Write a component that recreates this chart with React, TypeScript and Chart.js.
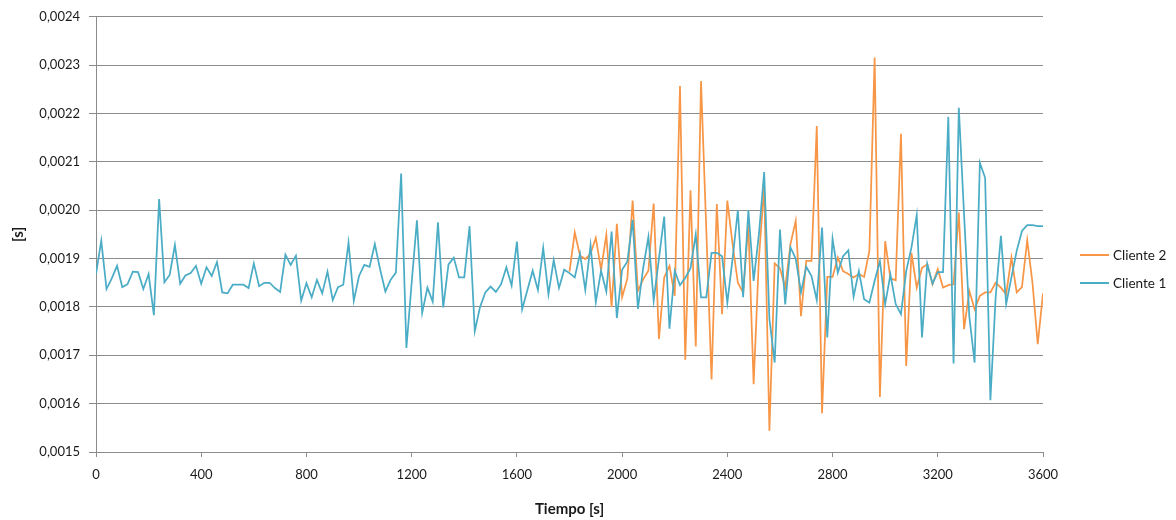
import React, { useEffect, useRef } from "react";
import { Chart, registerables } from "chart.js";

Chart.register(...registerables);

// Sampling: one value every 20 s
const TIME_STEP = 20;
const CLIENTE1_START = 0;
const CLIENTE2_START = 1800;

const CLIENTE1_LABEL = "Cliente 1";
const CLIENTE2_LABEL = "Cliente 2";

// Cliente 1: 0 s .. 3600 s
const CLIENTE1 = [
  0.001868, 0.001937, 0.001837, 0.001859, 0.001885, 0.001841, 0.001847, 0.001873, 0.001872, 0.001837,
  0.001868, 0.001783, 0.002023, 0.001851, 0.001866, 0.001928, 0.001848, 0.001865, 0.00187, 0.001885,
  0.001848, 0.001882, 0.001864, 0.001893, 0.00183, 0.001828, 0.001846, 0.001846, 0.001846, 0.001839,
  0.00189, 0.001843, 0.00185, 0.00185, 0.001839, 0.001831, 0.001908, 0.001887, 0.001906, 0.001813,
  0.001849, 0.00182, 0.001856, 0.001828, 0.001873, 0.001814, 0.001841, 0.001846, 0.001933, 0.001813,
  0.001864, 0.001887, 0.001883, 0.00193, 0.001878, 0.001832, 0.001856, 0.001871, 0.002076, 0.001715,
  0.00185, 0.001979, 0.001788, 0.00184, 0.001811, 0.001975, 0.001799, 0.001888, 0.001902, 0.001861,
  0.001861, 0.001967, 0.00175, 0.0018, 0.00183, 0.001842, 0.001831, 0.001847, 0.001882, 0.001844,
  0.001935, 0.001795, 0.001835, 0.001875, 0.001835, 0.001922, 0.001826, 0.001897, 0.001839, 0.001877,
  0.00187, 0.001861, 0.00191, 0.001835, 0.001928, 0.00181, 0.001875, 0.001832, 0.001956, 0.001777,
  0.001877, 0.001894, 0.00198, 0.001796, 0.00188, 0.001945, 0.001813, 0.0019, 0.001987, 0.001755,
  0.001875, 0.001845, 0.00186, 0.00188, 0.00195, 0.00182, 0.00182, 0.001912, 0.001912, 0.001905,
  0.001809, 0.0019, 0.002, 0.00182, 0.002, 0.001854, 0.00195, 0.002079, 0.001775, 0.001685,
  0.00196, 0.001805, 0.001923, 0.0019, 0.00183, 0.001883, 0.001864, 0.001814, 0.001964, 0.001737,
  0.001941, 0.001871, 0.001905, 0.001917, 0.001821, 0.001874, 0.001816, 0.001809, 0.001854, 0.001895,
  0.001806, 0.001867, 0.001806, 0.001785, 0.001874, 0.001923, 0.00199, 0.001737, 0.001889, 0.001848,
  0.001872, 0.001872, 0.002193, 0.001683, 0.002212, 0.00199, 0.00178, 0.001685, 0.002098, 0.002067,
  0.001607, 0.00182, 0.001947, 0.001806, 0.001861, 0.001916, 0.001957, 0.001969, 0.001969, 0.001967,
  0.001967,
];

// Cliente 2: 1800 s .. 3600 s
const CLIENTE2 = [
  0.001873, 0.001954, 0.001906, 0.001899, 0.00191, 0.001943, 0.001877, 0.001949, 0.0018, 0.001972,
  0.00182, 0.001859, 0.00202, 0.001833, 0.001857, 0.001875, 0.002014, 0.001734, 0.001861, 0.001885,
  0.001823, 0.002257, 0.001691, 0.002041, 0.001718, 0.002267, 0.00196, 0.00165, 0.002013, 0.001785,
  0.00202, 0.00193, 0.00185, 0.00183, 0.00197, 0.00164, 0.0019, 0.00205, 0.001544, 0.00189,
  0.00188, 0.00184, 0.00193, 0.001978, 0.001781, 0.001895, 0.001895, 0.002174, 0.00158, 0.001862,
  0.001862, 0.001902, 0.001874, 0.001868, 0.001861, 0.001868, 0.001862, 0.001916, 0.002316, 0.001614,
  0.001936, 0.001859, 0.001855, 0.002158, 0.001678, 0.001912, 0.00184, 0.001881, 0.001888, 0.001847,
  0.001878, 0.00184, 0.001845, 0.001847, 0.001995, 0.001754, 0.001833, 0.001795, 0.001823, 0.00183,
  0.00183, 0.00185, 0.00184, 0.001826, 0.001902, 0.00183, 0.001841, 0.001938, 0.00185, 0.001723,
  0.001828,
];

const X_TICKS = [0, 400, 800, 1200, 1600, 2000, 2400, 2800, 3200, 3600];
const Y_TICKS = [0.0015, 0.0016, 0.0017, 0.0018, 0.0019, 0.002, 0.0021, 0.0022, 0.0023, 0.0024];

const X_TITLE = "Tiempo [s]";
const Y_TITLE = "[s]";

const COLOR_C1 = "#4bacc6";
const COLOR_C2 = "#f79646";
const GRID_COLOR = "#8c8c8c";
const TEXT_COLOR = "#1a1a1a";
const FONT_FAMILY = "Lato, 'Open Sans', sans-serif";

function toPoints(start: number, values: number[]) {
  return values.map((v, i) => ({ x: start + i * TIME_STEP, y: v }));
}

const rightLegend = {
  id: "rightLegend",
  afterDraw(chart: any) {
    const ctx = chart.ctx as CanvasRenderingContext2D;
    const ds = chart.data.datasets;
    ctx.save();
    ctx.font = `13.5px ${FONT_FAMILY}`;
    ctx.textBaseline = "middle";
    ctx.textAlign = "left";
    ds.forEach((d: any, i: number) => {
      const y = 255 + i * 28;
      ctx.strokeStyle = d.borderColor;
      ctx.lineWidth = 2;
      ctx.beginPath();
      ctx.moveTo(1080, y);
      ctx.lineTo(1109, y);
      ctx.stroke();
      ctx.fillStyle = TEXT_COLOR;
      ctx.fillText(d.label, 1113, y + 1);
    });
    ctx.restore();
  },
};

export default function App() {
  const ref = useRef<HTMLCanvasElement | null>(null);

  useEffect(() => {
    if (!ref.current) return;
    const chart = new Chart(ref.current, {
      type: "line",
      data: {
        datasets: [
          {
            label: CLIENTE2_LABEL,
            data: toPoints(CLIENTE2_START, CLIENTE2),
            borderColor: COLOR_C2,
            backgroundColor: COLOR_C2,
            borderWidth: 1.75,
            pointRadius: 0,
            tension: 0,
            order: 1,
          },
          {
            label: CLIENTE1_LABEL,
            data: toPoints(CLIENTE1_START, CLIENTE1),
            borderColor: COLOR_C1,
            backgroundColor: COLOR_C1,
            borderWidth: 1.75,
            pointRadius: 0,
            tension: 0,
            order: 0,
          },
        ],
      },
      options: {
        responsive: false,
        animation: false,
        devicePixelRatio: 1,
        layout: { padding: { top: 16, right: 133, left: 0, bottom: 0 } },
        plugins: {
          legend: { display: false },
          tooltip: { enabled: false },
        },
        scales: {
          x: {
            type: "linear",
            min: 0,
            max: 3600,
            afterBuildTicks: (scale: any) => {
              scale.ticks = X_TICKS.map((v) => ({ value: v }));
            },
            afterFit: (scale: any) => {
              scale.height = 68;
            },
            grid: {
              drawOnChartArea: false,
              drawTicks: true,
              tickLength: 5,
              color: GRID_COLOR,
              tickColor: GRID_COLOR,
            },
            border: { display: true, color: GRID_COLOR, width: 1 },
            ticks: {
              color: TEXT_COLOR,
              font: { family: FONT_FAMILY, size: 13 },
              padding: 10,
              maxRotation: 0,
              autoSkip: false,
              callback: (v: any) => String(v),
            },
            title: {
              display: true,
              text: X_TITLE,
              color: TEXT_COLOR,
              font: { family: FONT_FAMILY, size: 15, weight: "bold" },
              padding: { top: 0, bottom: 2 },
            },
          },
          y: {
            type: "linear",
            min: 0.0015,
            max: 0.0024,
            afterBuildTicks: (scale: any) => {
              scale.ticks = Y_TICKS.map((v) => ({ value: v }));
            },
            afterFit: (scale: any) => {
              scale.width = 96;
            },
            grid: {
              drawOnChartArea: true,
              drawTicks: true,
              tickLength: 7,
              color: GRID_COLOR,
              tickColor: GRID_COLOR,
            },
            border: { display: true, color: GRID_COLOR, width: 1 },
            ticks: {
              color: TEXT_COLOR,
              font: { family: FONT_FAMILY, size: 13 },
              padding: 9,
              autoSkip: false,
              callback: (v: any) => Number(v).toFixed(4).replace(".", ","),
            },
            title: {
              display: true,
              text: Y_TITLE,
              color: TEXT_COLOR,
              font: { family: FONT_FAMILY, size: 15, weight: "bold" },
              padding: { top: 9, bottom: 0 },
            },
          },
        },
      },
      plugins: [rightLegend],
    });
    return () => chart.destroy();
  }, []);

  return (
    <div style={{ position: "absolute", left: 0, top: 0, width: 1176, height: 520, background: "#fff" }}>
      <canvas ref={ref} width={1176} height={520} style={{ width: 1176, height: 520 }} />
    </div>
  );
}
